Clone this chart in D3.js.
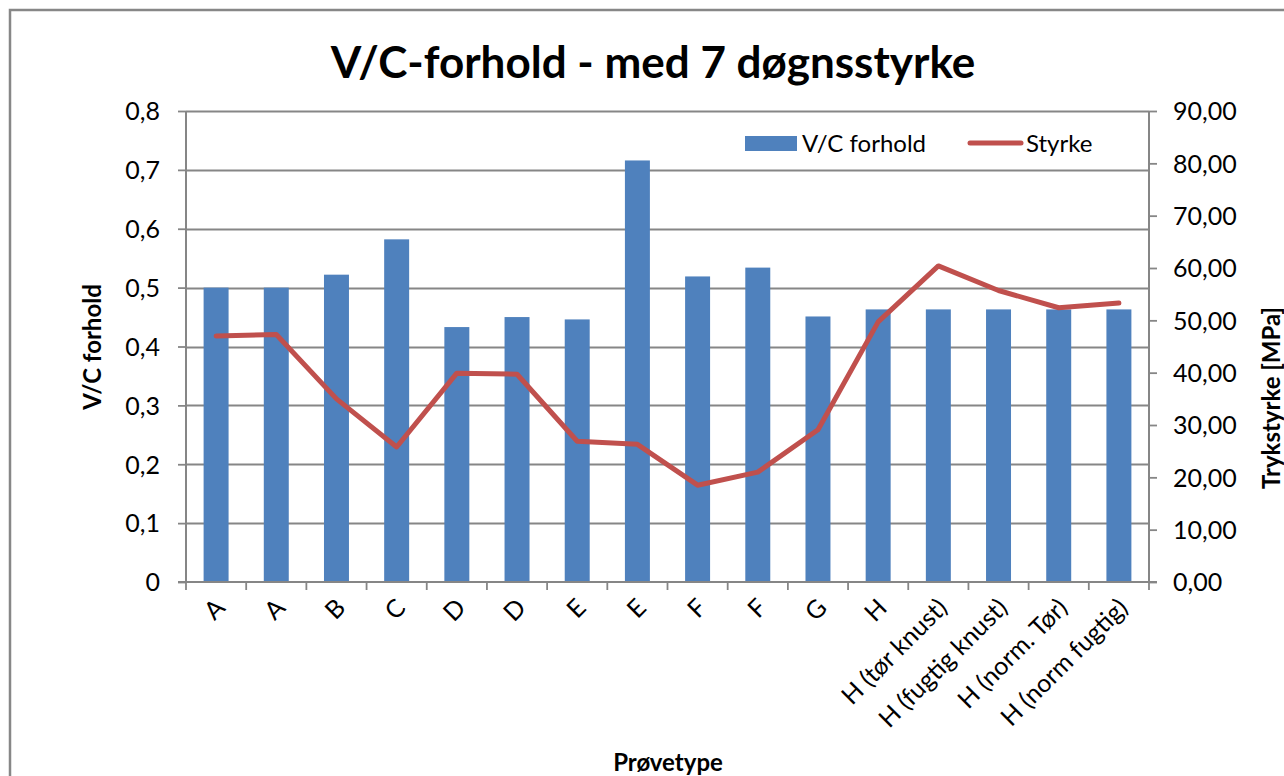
<!DOCTYPE html>
<html>
<head>
<meta charset="utf-8">
<script src="https://cdn.jsdelivr.net/npm/d3@7"></script>
<style>
  body { margin: 0; background: #fff; }
  text { font-family: Lato, "Open Sans", sans-serif; fill: #000; }
</style>
</head>
<body>
<script>
// Data
var categories = ["A", "A", "B", "C", "D", "D", "E", "E", "F", "F", "G", "H",
  "H (tør knust)", "H (fugtig knust)", "H (norm. Tør)", "H (norm fugtig)"];
var vcRatio = [0.500, 0.500, 0.522, 0.582, 0.433, 0.450, 0.446, 0.716,
  0.519, 0.534, 0.451, 0.463, 0.463, 0.463, 0.463, 0.463];
var strength = [47.0, 47.3, 35.0, 25.8, 39.9, 39.7, 26.9, 26.3,
  18.5, 21.0, 29.1, 49.7, 60.4, 55.7, 52.4, 53.3];
var leftTicks = [0, 0.1, 0.2, 0.3, 0.4, 0.5, 0.6, 0.7, 0.8];
var rightTicks = [0, 10, 20, 30, 40, 50, 60, 70, 80, 90];

var W = 1284, H = 776;
var margin = {top: 111, right: W - 1149, bottom: H - 582, left: 186},
    width = W - margin.left - margin.right,
    height = H - margin.top - margin.bottom;

var barColor = "#4F81BD", lineColor = "#C0504D", gridColor = "#868686";

var svg = d3.select("body").append("svg")
    .attr("width", W)
    .attr("height", H);

// chart frame
svg.append("rect")
    .attr("x", 10).attr("y", 10)
    .attr("width", W + 20).attr("height", H + 20)
    .attr("fill", "#fff")
    .attr("stroke", "#878787")
    .attr("stroke-width", 2.5);

svg.append("text")
    .attr("x", 653).attr("y", 78)
    .attr("text-anchor", "middle")
    .style("font-size", "44px")
    .style("font-weight", "bold")
    .text("V/C-forhold - med 7 døgnsstyrke");

var g = svg.append("g")
    .attr("transform", "translate(" + margin.left + "," + margin.top + ")");

// scales
var x = d3.scaleBand()
    .domain(d3.range(categories.length))
    .range([0, width])
    .paddingInner(0.585)
    .paddingOuter(0.2925);

var xb = d3.scaleLinear().domain([0, categories.length]).range([0, width]);

var y = d3.scaleLinear().domain([0, 0.8]).range([height, 0]);
var y2 = d3.scaleLinear().domain([0, 90]).range([height, 0]);

// gridlines (left axis)
g.append("g")
    .selectAll("line")
    .data(leftTicks.slice(1))
    .enter().append("line")
      .attr("x1", 0).attr("x2", width)
      .attr("y1", function(d) { return Math.round(y(d)) + 0.5; })
      .attr("y2", function(d) { return Math.round(y(d)) + 0.5; })
      .attr("stroke", gridColor)
      .attr("stroke-width", 1.8);

// bars
g.selectAll(".bar")
    .data(vcRatio)
    .enter().append("rect")
      .attr("class", "bar")
      .attr("x", function(d, i) { return x(i); })
      .attr("width", x.bandwidth())
      .attr("y", function(d) { return y(d); })
      .attr("height", function(d) { return height - y(d); })
      .attr("fill", barColor);

// line
var line = d3.line()
    .x(function(d, i) { return x(i) + x.bandwidth() / 2; })
    .y(function(d) { return y2(d); });

g.append("path")
    .datum(strength)
    .attr("d", line)
    .attr("fill", "none")
    .attr("stroke", lineColor)
    .attr("stroke-width", 5)
    .attr("stroke-linejoin", "round")
    .attr("stroke-linecap", "round");

// left axis
var yAxis = d3.axisLeft(y)
    .tickValues(leftTicks)
    .tickSize(8)
    .tickPadding(18)
    .tickFormat(function(d) { return d === 0 ? "0" : d3.format(".1f")(d).replace(".", ","); });

var gy = g.append("g").call(yAxis);
gy.select(".domain").attr("d", "M0,0V" + height);

// right axis
var yAxis2 = d3.axisRight(y2)
    .tickValues(rightTicks)
    .tickSize(8)
    .tickPadding(16)
    .tickFormat(function(d) { return d3.format(".2f")(d).replace(".", ","); });

var gy2 = g.append("g")
    .attr("transform", "translate(" + width + ",0)")
    .call(yAxis2);
gy2.select(".domain").attr("d", "M0,0V" + height);

// bottom axis: ticks on band boundaries
var gx = g.append("g")
    .attr("transform", "translate(0," + height + ")");
gx.append("line")
    .attr("x1", -8).attr("x2", width + 8)
    .attr("stroke", gridColor).attr("stroke-width", 2);
gx.selectAll(".tk")
    .data(d3.range(categories.length + 1))
    .enter().append("line")
      .attr("class", "tk")
      .attr("x1", function(d) { return xb(d); })
      .attr("x2", function(d) { return xb(d); })
      .attr("y1", 0).attr("y2", 8)
      .attr("stroke", gridColor).attr("stroke-width", 1.8);

gx.selectAll(".xl")
    .data(categories)
    .enter().append("text")
      .attr("class", "xl")
      .attr("text-anchor", "end")
      .attr("transform", function(d, i) {
        return "translate(" + (x(i) + x.bandwidth() / 2 - 2) + ",15) rotate(-45)";
      })
      .attr("dy", "0.7em")
      .style("font-size", "25px")
      .text(function(d) { return d; });

[gy, gy2].forEach(function(a) {
  a.select(".domain").attr("stroke", gridColor).attr("stroke-width", 2);
  a.selectAll(".tick line").attr("stroke", gridColor).attr("stroke-width", 1.8);
  a.selectAll(".tick text").style("font-size", "25px").style("font-family", "Lato, sans-serif");
});
gy.selectAll(".tick text").attr("dy", "0.35em");
gy2.selectAll(".tick text").attr("dy", "0.35em");

// axis titles
svg.append("text")
    .attr("transform", "translate(101,347) rotate(-90)")
    .attr("text-anchor", "middle")
    .style("font-size", "24px")
    .style("font-weight", "bold")
    .text("V/C forhold");

svg.append("text")
    .attr("transform", "translate(1280,398) rotate(-90)")
    .attr("text-anchor", "middle")
    .style("font-size", "24px")
    .style("font-weight", "bold")
    .text("Trykstyrke [MPa]");

svg.append("text")
    .attr("x", 668).attr("y", 771)
    .attr("text-anchor", "middle")
    .style("font-size", "24px")
    .style("font-weight", "bold")
    .text("Prøvetype");

// legend
var legend = svg.append("g");
legend.append("rect")
    .attr("x", 745).attr("y", 136)
    .attr("width", 52).attr("height", 15)
    .attr("fill", barColor);
legend.append("text")
    .attr("x", 802).attr("y", 152)
    .style("font-size", "24px")
    .text("V/C forhold");
legend.append("line")
    .attr("x1", 970).attr("x2", 1021)
    .attr("y1", 143).attr("y2", 143)
    .attr("stroke", lineColor)
    .attr("stroke-width", 5)
    .attr("stroke-linecap", "round");
legend.append("text")
    .attr("x", 1026).attr("y", 152)
    .style("font-size", "24px")
    .text("Styrke");
</script>
</body>
</html>
